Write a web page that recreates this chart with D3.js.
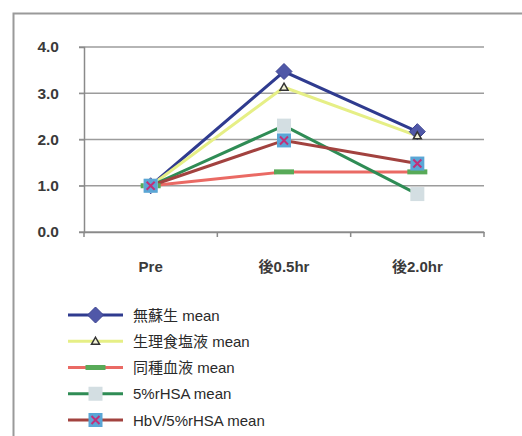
<!DOCTYPE html>
<html>
<head>
<meta charset="utf-8">
<script src="https://cdn.jsdelivr.net/npm/d3@7"></script>
<style>
  body { margin: 0; background: #fff; }
  text { font-family: "Liberation Sans", Arial, "Noto Sans CJK JP", sans-serif; }
</style>
</head>
<body>
<svg id="chart" width="522" height="436"></svg>
<script>
const categories = ['Pre', '後0.5hr', '後2.0hr'];
const yTicks = [0, 1, 2, 3, 4];

const names = ['無蘇生 mean', '生理食塩液 mean', '同種血液 mean', '5%rHSA mean', 'HbV/5%rHSA mean'];
const mumosei = [1.0, 3.47, 2.17];
const seiri = [1.0, 3.13, 2.08];
const doushu = [1.0, 1.3, 1.3];
const rhsa = [1.0, 2.3, 0.82];
const hbv = [1.0, 1.98, 1.48];

const lineColors = ['#2f3b8f', '#e6ef86', '#ea6a64', '#2f8c55', '#a2423f'];
const markers = ['diamond', 'triangle', 'bar', 'square', 'xsquare'];

const series = [mumosei, seiri, doushu, rhsa, hbv].map(function (v, i) {
    return {name: names[i], values: v, color: lineColors[i], marker: markers[i]};
});

const svg = d3.select('#chart');

// outer frame
svg.append('rect')
    .attr('x', 13.5).attr('y', 13.5)
    .attr('width', 520).attr('height', 440)
    .attr('fill', 'none')
    .attr('stroke', '#9a9a9a')
    .attr('stroke-width', 2);

const plotLeft = 84, plotRight = 484, plotTop = 47, plotBottom = 232;

const x = d3.scaleBand().domain(categories).range([plotLeft, plotRight]);
const y = d3.scaleLinear().domain([0, 4]).range([plotBottom, plotTop]);

// gridlines
svg.append('g')
    .selectAll('line')
    .data(yTicks)
    .enter().append('line')
    .attr('x1', plotLeft - 5).attr('x2', plotRight)
    .attr('y1', d => y(d)).attr('y2', d => y(d))
    .attr('stroke', '#9c9c9c')
    .attr('stroke-width', 1.5);

// y axis
const yAxis = svg.append('g')
    .attr('transform', 'translate(' + plotLeft + ',0)')
    .call(d3.axisLeft(y).tickValues(yTicks).tickFormat(d3.format('.1f')).tickSize(5).tickPadding(20));
yAxis.select('.domain').attr('stroke', '#8a8a8a').attr('stroke-width', 1.5);
yAxis.selectAll('.tick line').attr('stroke', '#8a8a8a');
yAxis.selectAll('text')
    .attr('fill', '#3a3a3a')
    .style('font-size', '15.5px')
    .style('font-weight', 'bold');

// x axis
const xAxis = svg.append('g')
    .attr('transform', 'translate(0,' + plotBottom + ')')
    .call(d3.axisBottom(x).tickSize(0).tickPadding(29));
xAxis.select('.domain').attr('stroke', '#8a8a8a').attr('stroke-width', 1.5);
xAxis.selectAll('text')
    .attr('fill', '#3a3a3a')
    .style('font-size', '15px')
    .style('font-weight', 'bold');
// category separator ticks
svg.append('g')
    .selectAll('line')
    .data(categories.concat(['end']))
    .enter().append('line')
    .attr('x1', (d, i) => plotLeft + i * x.bandwidth())
    .attr('x2', (d, i) => plotLeft + i * x.bandwidth())
    .attr('y1', plotBottom).attr('y2', plotBottom + 5)
    .attr('stroke', '#8a8a8a')
    .attr('stroke-width', 1.5);

const line = d3.line()
    .x((d, i) => x(categories[i]) + x.bandwidth() / 2)
    .y(d => y(d));

function drawMarker(g, type, cx, cy) {
    if (type === 'diamond') {
        g.append('path')
            .attr('d', 'M' + cx + ',' + (cy - 8) + 'L' + (cx + 8) + ',' + cy + 'L' + cx + ',' + (cy + 8) + 'L' + (cx - 8) + ',' + cy + 'Z')
            .attr('fill', '#5058a8').attr('stroke', '#3a4190').attr('stroke-width', 1);
    } else if (type === 'triangle') {
        g.append('path')
            .attr('d', 'M' + cx + ',' + (cy - 4) + 'L' + (cx + 4) + ',' + (cy + 3) + 'L' + (cx - 4) + ',' + (cy + 3) + 'Z')
            .attr('fill', '#f2f2d8').attr('stroke', '#333').attr('stroke-width', 1.5);
    } else if (type === 'bar') {
        g.append('rect')
            .attr('x', cx - 10).attr('y', cy - 2.5)
            .attr('width', 20).attr('height', 5)
            .attr('fill', '#58aa58');
    } else if (type === 'square') {
        g.append('rect')
            .attr('x', cx - 7).attr('y', cy - 7)
            .attr('width', 14).attr('height', 14)
            .attr('fill', '#d3dee2');
    } else if (type === 'xsquare') {
        g.append('rect')
            .attr('x', cx - 7).attr('y', cy - 7)
            .attr('width', 14).attr('height', 14)
            .attr('fill', '#5aa6d6');
        g.append('path')
            .attr('d', 'M' + (cx - 4) + ',' + (cy - 4) + 'L' + (cx + 4) + ',' + (cy + 4) + 'M' + (cx + 4) + ',' + (cy - 4) + 'L' + (cx - 4) + ',' + (cy + 4))
            .attr('stroke', '#c0307a').attr('stroke-width', 2);
    }
}

// lines
const plot = svg.append('g');
series.forEach(function (s) {
    plot.append('path')
        .datum(s.values)
        .attr('d', line)
        .attr('fill', 'none')
        .attr('stroke', s.color)
        .attr('stroke-width', 3);
});
// markers on top
series.forEach(function (s) {
    const g = plot.append('g');
    s.values.forEach(function (v, i) {
        drawMarker(g, s.marker, x(categories[i]) + x.bandwidth() / 2, y(v));
    });
});

// legend
const legendY = d3.scalePoint().domain(names).range([315, 420]);
const legend = svg.append('g');
series.forEach(function (s) {
    const ly = legendY(s.name);
    const g = legend.append('g');
    g.append('line')
        .attr('x1', 68).attr('x2', 123)
        .attr('y1', ly).attr('y2', ly)
        .attr('stroke', s.color)
        .attr('stroke-width', 3);
    drawMarker(g, s.marker, 95.5, ly);
    g.append('text')
        .attr('x', 133).attr('y', ly + 5.5)
        .attr('fill', '#2a2a2a')
        .style('font-size', '15px')
        .text(s.name);
});
</script>
</body>
</html>
